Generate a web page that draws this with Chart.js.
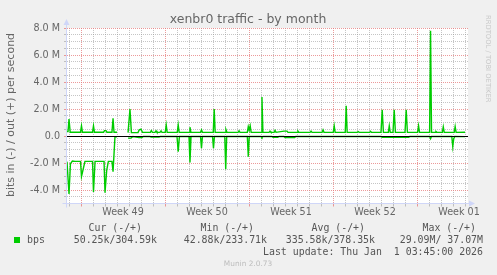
<!DOCTYPE html>
<html><head><meta charset="utf-8">
<script src="https://cdn.jsdelivr.net/npm/chart.js@4/dist/chart.umd.min.js"></script>
<style>html,body{margin:0;padding:0;background:#f0f0f0;overflow:hidden}canvas{display:block}</style>
</head><body>
<canvas id="c" width="497" height="275"></canvas>
<script>
// ---- data (time in days from start of Week 49 grid line, values in Mbit/s) ----
const outTimes = [-1.167,-1.08,-1.0,-0.9,-0.04,0.04,0.12,0.96,1.04,1.12,1.88,1.96,2.08,2.16,2.58,2.67,2.75,3.0,3.45,
  3.92,4.08,4.2,4.75,4.85,5.0,5.12,5.78,5.86,5.95,6.17,6.25,6.33,6.58,6.67,6.75,7.02,7.1,7.18,8.02,8.1,8.18,
  9.0,9.08,9.16,9.96,10.04,10.12,11.02,11.1,11.18,12.0,12.08,12.16,13.09,13.17,13.25,13.86,13.94,14.02,14.1,14.18,
  15.0,15.08,15.16,15.67,15.75,15.83,16.09,16.17,16.25,16.92,17.17,17.25,18.0,18.08,18.16,19.09,19.17,19.25,
  20.09,20.17,20.25,21.02,21.1,21.18,22.02,22.1,22.18,23.02,23.1,23.18,24.05,24.13,24.21,25.0,25.1,25.2,
  25.61,25.69,25.77,26.0,26.1,26.2,27.0,27.1,27.2,28.05,28.13,28.21,29.05,29.13,29.21,29.5,29.58,29.66,
  30.11,30.19,30.27,31.1,31.18,31.26,32.0];
const outValues = [0.33,0.33,1.25,0.28,0.28,0.75,0.28,0.28,0.75,0.28,0.28,0.40,0.40,0.28,0.28,1.32,0.28,0.28,null,
  0.25,2.0,0.25,0.25,0.45,0.50,0.27,0.27,0.40,0.27,0.27,0.38,0.27,0.27,0.38,0.27,0.27,0.82,0.27,0.27,0.82,0.27,
  0.27,0.65,0.27,0.27,0.45,0.27,0.27,2.0,0.27,0.27,0.47,0.27,0.27,0.38,0.27,0.27,0.70,0.42,0.75,0.27,
  0.27,2.88,0.27,0.27,0.36,0.27,0.27,0.42,0.27,0.36,0.36,0.27,0.27,0.36,0.27,0.27,0.36,0.27,
  0.27,0.45,0.27,0.27,0.75,0.27,0.27,2.23,0.27,0.27,0.33,0.27,0.27,0.35,0.27,0.27,1.94,0.27,
  0.27,0.75,0.27,0.27,1.94,0.27,0.27,1.94,0.27,0.27,0.75,0.27,0.27,7.80,0.27,0.27,0.33,0.27,
  0.27,0.68,0.27,0.27,0.70,0.27,0.28];
const inTimes = [-1.167,-1.0,-0.88,-0.72,-0.5,-0.04,0.04,0.17,0.33,0.96,1.04,1.17,1.92,2.0,2.14,2.28,2.58,2.67,2.83,3.0,3.45,
  3.92,4.17,4.33,4.83,5.08,5.2,5.75,5.85,6.5,6.6,8.0,8.1,8.2,9.0,9.08,9.17,9.96,10.04,10.12,10.96,11.04,11.12,
  11.98,12.06,12.14,13.86,13.94,14.02,15.0,15.08,15.16,15.9,16.0,16.4,16.5,16.9,17.0,17.8,17.9,
  25.0,25.1,27.3,27.4,29.05,29.13,29.21,30.9,30.98,31.06,31.15,32.0];
const inValues = [-1.90,-4.30,-2.05,-1.85,-1.88,-1.88,-3.00,-2.50,-1.88,-1.88,-4.15,-1.88,-1.88,-4.20,-2.55,-1.88,-1.88,-2.64,-0.05,-0.05,null,
  -0.16,-0.15,-0.04,-0.12,-0.12,-0.04,-0.04,-0.08,-0.08,-0.04,-0.04,-1.16,-0.04,-0.04,-1.97,-0.04,-0.04,-0.90,-0.04,-0.04,-0.90,-0.04,
  -0.04,-2.46,-0.04,-0.04,-1.53,-0.04,-0.04,-0.12,-0.04,-0.04,-0.10,-0.10,-0.04,-0.04,-0.12,-0.12,-0.04,
  -0.04,-0.09,-0.09,-0.04,-0.04,-0.20,-0.04,-0.04,-0.78,-0.20,-0.04,-0.05];
const weekLabels = ['Week 49','Week 50','Week 51','Week 52','Week 01'];
const weekLabelDays = [3.5,10.5,17.5,24.5,31.5];
const xMin = -1.167, xMax = 32.25;
const yMin = -5, yMax = 8, yMajorStep = 2, yMinorStep = 0.5;
const chartTitle = 'xenbr0 traffic - by month';
const yTitle = 'bits in (-) / out (+) per second';
const seriesName = 'bps';
const legendHeaders = ['Cur (-/+)','Min (-/+)','Avg (-/+)','Max (-/+)'];
const legendValues = ['50.25k/304.59k','42.88k/233.71k','335.58k/378.35k','29.09M/ 37.07M'];
const lastUpdate = 'Last update: Thu Jan  1 03:45:00 2026';
const watermark = 'Munin 2.0.73';
const sideText = 'RRDTOOL / TOBI OETIKER';

// ---- styles ----
const GREEN = '#00CC00', FONT = '#666666', AXIS = '#CFD6F8';
const MAJOR = 'rgba(230,120,120,0.75)', MINOR = 'rgba(150,150,150,0.55)';

function xGrid(v){
  if (v == null || Math.abs(v - Math.round(v)) > 1e-6) return 'rgba(0,0,0,0)';
  const d = Math.round(v);
  return (((d % 7) + 7) % 7 === 0) ? MAJOR : MINOR;
}
function yGrid(v){
  if (v == null || v === 0 || v === yMin) return 'rgba(0,0,0,0)';
  return (Math.abs(v % yMajorStep) < 1e-6) ? MAJOR : MINOR;
}
function yTick(v){
  if (Math.abs(v % yMajorStep) > 1e-6) return '';
  if (v === 0) return '0.0';
  return v.toFixed(1) + ' M';
}

const deco = {
  id: 'deco',
  beforeDraw(chart){
    const {ctx, chartArea: a} = chart;
    ctx.save();
    ctx.fillStyle = '#f0f0f0'; ctx.fillRect(0, 0, chart.width, chart.height);
    ctx.fillStyle = '#ffffff'; ctx.fillRect(a.left, a.top, a.right - a.left, a.bottom - a.top);
    ctx.restore();
  },
  afterDatasetsDraw(chart){
    const {ctx, chartArea: a} = chart;
    const y0 = Math.round(chart.scales.y.getPixelForValue(0)) + 0.5;
    ctx.save();
    ctx.strokeStyle = '#000'; ctx.lineWidth = 1.2;
    ctx.beginPath(); ctx.moveTo(a.left, y0); ctx.lineTo(a.right, y0); ctx.stroke();
    ctx.restore();
  },
  afterDraw(chart){
    const {ctx, chartArea: a} = chart;
    ctx.save();
    // axes with arrows
    const ax = Math.round(a.left) - 0.5, ay = Math.floor(a.bottom) + 0.5;
    ctx.strokeStyle = AXIS; ctx.fillStyle = AXIS; ctx.lineWidth = 1;
    ctx.beginPath(); ctx.moveTo(ax, ay + 4); ctx.lineTo(ax, a.top - 4); ctx.stroke();
    ctx.beginPath(); ctx.moveTo(ax - 3, a.top - 3); ctx.lineTo(ax + 3, a.top - 3); ctx.lineTo(ax, a.top - 9); ctx.closePath(); ctx.fill();
    ctx.beginPath(); ctx.moveTo(ax - 4, ay); ctx.lineTo(a.right + 1, ay); ctx.stroke();
    ctx.beginPath(); ctx.moveTo(a.right + 1, ay - 3); ctx.lineTo(a.right + 1, ay + 3); ctx.lineTo(a.right + 7, ay); ctx.closePath(); ctx.fill();
    // title
    ctx.fillStyle = FONT;
    ctx.font = '12.5px "DejaVu Sans"'; ctx.textAlign = 'center'; ctx.textBaseline = 'alphabetic';
    ctx.fillText(chartTitle, 248, 23);
    // y title
    ctx.save();
    ctx.translate(11, 115); ctx.rotate(-Math.PI / 2);
    ctx.font = '11px "DejaVu Sans"'; ctx.textAlign = 'center'; ctx.textBaseline = 'middle';
    ctx.fillText(yTitle, 0, 0);
    ctx.restore();
    // side text
    ctx.save();
    ctx.translate(488, 15); ctx.rotate(Math.PI / 2);
    ctx.font = '6.8px "DejaVu Sans"'; ctx.textAlign = 'left'; ctx.textBaseline = 'middle';
    ctx.fillStyle = '#c8c8c8';
    ctx.fillText(sideText, 0, 0);
    ctx.restore();
    // legend
    ctx.font = '9.9px "DejaVu Sans Mono"'; ctx.textBaseline = 'middle'; ctx.fillStyle = '#555';
    const hdrRight = [142, 254, 365, 476], valRight = [157, 267, 375, 483];
    ctx.textAlign = 'right';
    legendHeaders.forEach((t, i) => ctx.fillText(t, hdrRight[i], 228));
    legendValues.forEach((t, i) => ctx.fillText(t, valRight[i], 240));
    ctx.fillText(lastUpdate, 483, 252);
    ctx.textAlign = 'left';
    ctx.fillText(seriesName, 27, 240);
    ctx.fillStyle = GREEN; ctx.fillRect(14, 237, 6, 6);
    // watermark
    ctx.font = '7.4px "DejaVu Sans"'; ctx.textAlign = 'center'; ctx.fillStyle = '#bdbdbd';
    ctx.fillText(watermark, 248, 264);
    ctx.restore();
  }
};

const toPts = (xs, ys) => xs.map((x, i) => ({x, y: ys[i]}));

new Chart(document.getElementById('c'), {
  type: 'line',
  data: { datasets: [
    { label: 'out', data: toPts(outTimes, outValues), borderColor: GREEN, borderWidth: 1.4, pointRadius: 0, tension: 0, spanGaps: false, fill: false },
    { label: 'in', data: toPts(inTimes, inValues), borderColor: GREEN, borderWidth: 1.4, pointRadius: 0, tension: 0, spanGaps: false, fill: false }
  ]},
  options: {
    responsive: false, animation: false, devicePixelRatio: 1, events: [],
    parsing: false, normalized: true,
    layout: { padding: { left: 0, top: 28, right: 29, bottom: 0 } },
    plugins: { legend: { display: false }, title: { display: false }, tooltip: { enabled: false } },
    scales: {
      x: {
        type: 'linear', min: xMin, max: xMax,
        afterBuildTicks: s => { const t = []; for (let d = Math.ceil(xMin * 2) / 2; d <= xMax + 1e-9; d += 0.5) t.push({value: d}); s.ticks = t; },
        afterFit: s => { s.height = 71.5; },
        grid: { color: c => xGrid(c.tick && c.tick.value), tickColor: c => xGrid(c.tick && c.tick.value), lineWidth: 1, tickLength: 3, tickBorderDash: [], drawTicks: true },
        border: { display: false, dash: [1, 1] },
        ticks: { autoSkip: false, maxRotation: 0, minRotation: 0, padding: 0.5, color: FONT, font: { family: 'DejaVu Sans', size: 9.6 },
          callback: v => { const i = weekLabelDays.findIndex(d => Math.abs(d - v) < 1e-6); return i >= 0 ? weekLabels[i] : ''; } }
      },
      y: {
        type: 'linear', min: yMin, max: yMax,
        afterBuildTicks: s => { const t = []; for (let v = yMin; v <= yMax + 1e-9; v += yMinorStep) t.push({value: Math.round(v * 10) / 10}); s.ticks = t; },
        afterFit: s => { s.width = 67; },
        grid: { color: c => yGrid(c.tick && c.tick.value), tickColor: c => (c.tick && c.tick.value === 0) ? MAJOR : yGrid(c.tick && c.tick.value), lineWidth: 1, tickLength: 3, tickBorderDash: [], drawTicks: true },
        border: { display: false, dash: [1, 1] },
        ticks: { autoSkip: false, padding: 4, color: FONT, font: { family: 'DejaVu Sans', size: 9.6 }, callback: v => yTick(v) }
      }
    }
  },
  plugins: [deco]
});
</script>
</body></html>
